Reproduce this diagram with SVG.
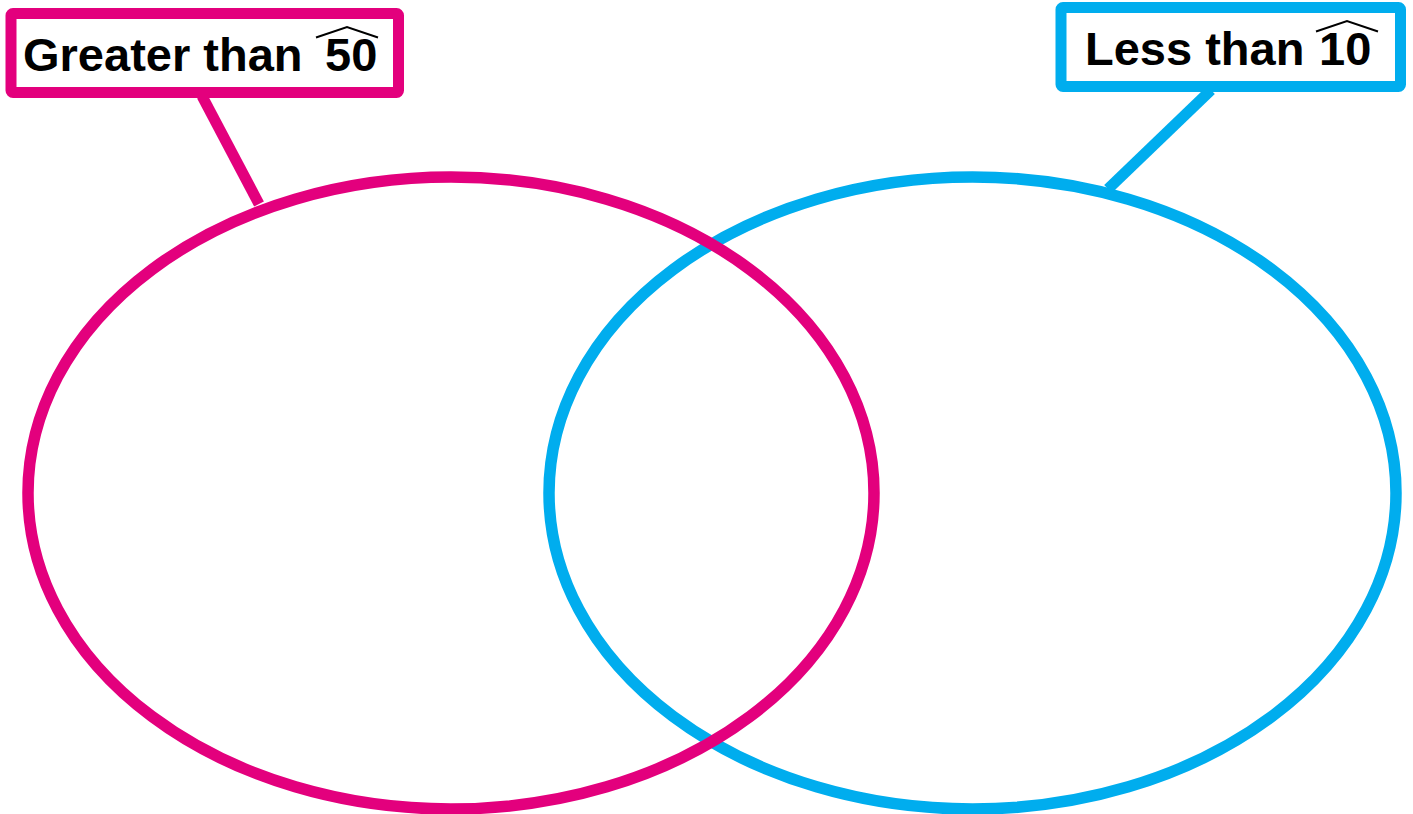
<svg xmlns="http://www.w3.org/2000/svg" width="1413" height="814" viewBox="0 0 1413 814">
  <style>
    .pink { stroke: #E3007D; }
    .blue { stroke: #00ADEE; }
    .ring { fill: none; stroke-width: 11.5; }
    .box { fill: #FFFFFF; stroke-width: 11; stroke-linejoin: round; }
    .conn { stroke-width: 11; fill: none; }
    .lbl { font-family: "Liberation Sans", Arial, Helvetica, sans-serif; font-weight: bold; font-size: 47px; fill: #000000; }
    .hat { fill: none; stroke: #000000; stroke-width: 2; stroke-linejoin: miter; }
  </style>
  <rect x="0" y="0" width="1413" height="814" fill="#FFFFFF"/>
  <g id="set-less-than-10">
    <ellipse class="ring blue" cx="972.5" cy="493" rx="423.5" ry="316"/>
  </g>
  <g id="set-greater-than-50">
    <ellipse class="ring pink" cx="451" cy="493" rx="423" ry="316"/>
  </g>
  <g id="connectors">
    <line class="conn pink" x1="202" y1="96" x2="259" y2="204"/>
    <line class="conn blue" x1="1211" y1="90" x2="1108" y2="189"/>
  </g>
  <g id="label-greater-than-50">
    <rect class="box pink" x="11" y="13.5" width="387.5" height="79" rx="2"/>
    <text class="lbl" x="23" y="71">Greater than</text>
    <text class="lbl" x="325" y="71">50</text>
    <path class="hat" d="M316 37.5 L347 27 L378 37.5"/>
  </g>
  <g id="label-less-than-10">
    <rect class="box blue" x="1061" y="7.5" width="339.5" height="79" rx="2"/>
    <text class="lbl" x="1085" y="65">Less than</text>
    <text class="lbl" x="1319" y="65">10</text>
    <path class="hat" d="M1316 31.5 L1347 21 L1378 31.5"/>
  </g>
</svg>
